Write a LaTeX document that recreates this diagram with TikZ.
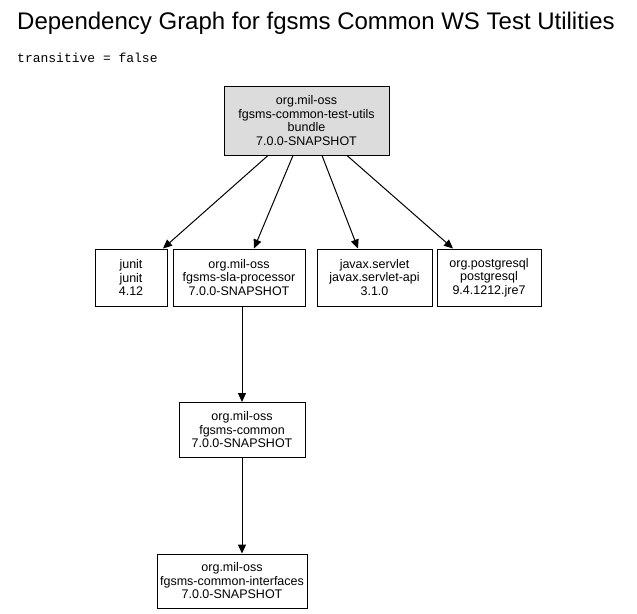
\documentclass[tikz,border=0pt]{standalone}
\usepackage{fontspec}
\setmainfont{Liberation Sans}
\setmonofont{Liberation Mono}
\usetikzlibrary{arrows.meta}
\definecolor{boxgray}{HTML}{DCDCDC}
\tikzset{
  dep/.style={draw=black, line width=1pt, fill=white, inner sep=0pt, align=center,
    font=\fontsize{12.5}{13.5}\selectfont, anchor=center},
  rootdep/.style={dep, fill=boxgray},
  conn/.style={line width=1pt, -{Triangle[length=9pt,width=8pt]}},
}
\begin{document}
\begin{tikzpicture}[x=1pt,y=-1pt]
\useasboundingbox (0,0) rectangle (637,613);
\node[anchor=west, inner sep=0pt, font=\fontsize{24}{26}\selectfont] (title) at (17,23) {Dependency Graph for fgsms Common WS Test Utilities};
\node[anchor=west, font=\ttfamily\fontsize{13}{14}\selectfont, inner sep=0pt] (trans) at (17,58) {transitive = false};

\node[rootdep, minimum width=165, minimum height=69] (root) at (306.5,120.5)
  {org.mil-oss\\fgsms-common-test-utils\\bundle\\7.0.0-SNAPSHOT};
\node[dep, minimum width=72, minimum height=57] (junit) at (131,277.5)
  {junit\\junit\\4.12};
\node[dep, minimum width=132, minimum height=57] (sla) at (239,277.5)
  {org.mil-oss\\fgsms-sla-processor\\7.0.0-SNAPSHOT};
\node[dep, minimum width=115, minimum height=57] (servlet) at (374.5,277.5)
  {javax.servlet\\javax.servlet-api\\3.1.0};
\node[dep, minimum width=104, minimum height=57] (pg) at (489,277.5)
  {org.postgresql\\postgresql\\9.4.1212.jre7};
\node[dep, minimum width=126, minimum height=55] (common) at (242,430)
  {org.mil-oss\\fgsms-common\\7.0.0-SNAPSHOT};
\node[dep, minimum width=150, minimum height=54] (ifaces) at (232,581)
  {org.mil-oss\\fgsms-common-interfaces\\7.0.0-SNAPSHOT};

\draw[conn] (root.south -| 268,0) -- (junit.north -| 163,0);
\draw[conn] (root.south -| 293,0) -- (sla.north -| 254,0);
\draw[conn] (root.south -| 322,0) -- (servlet.north -| 358,0);
\draw[conn] (root.south -| 347,0) -- (pg.north -| 453,0);
\draw[conn] (sla.south -| 242,0) -- (common.north -| 242,0);
\draw[conn] (common.south -| 242,0) -- (ifaces.north -| 242,0);
\end{tikzpicture}
\end{document}
